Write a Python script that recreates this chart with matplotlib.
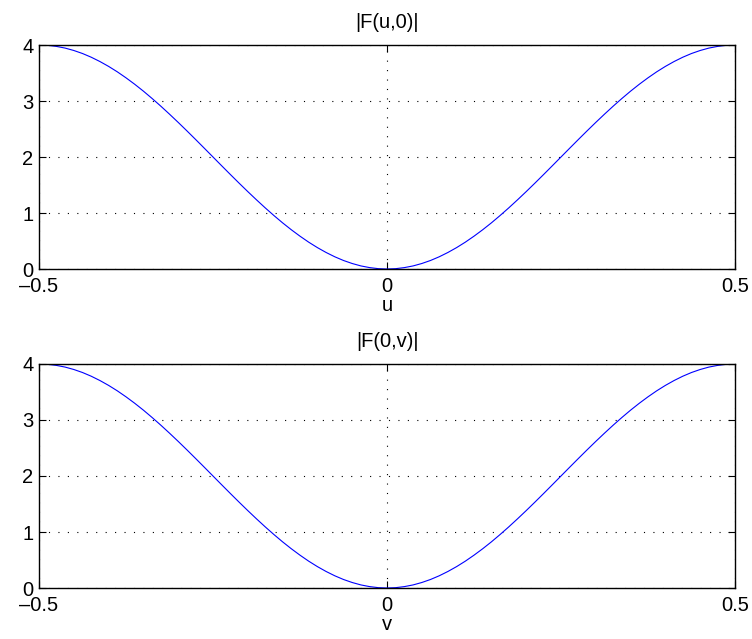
import matplotlib
matplotlib.use("Agg")
import matplotlib.pyplot as plt

plt.rcParams["font.family"] = ["Liberation Sans", "DejaVu Sans"]

u = [-0.5, -0.4875, -0.475, -0.4625, -0.45, -0.4375, -0.425, -0.4125, -0.4, -0.3875,
     -0.375, -0.3625, -0.35, -0.3375, -0.325, -0.3125, -0.3, -0.2875, -0.275, -0.2625,
     -0.25, -0.2375, -0.225, -0.2125, -0.2, -0.1875, -0.175, -0.1625, -0.15, -0.1375,
     -0.125, -0.1125, -0.1, -0.0875, -0.075, -0.0625, -0.05, -0.0375, -0.025, -0.0125,
     0.0, 0.0125, 0.025, 0.0375, 0.05, 0.0625, 0.075, 0.0875, 0.1, 0.1125,
     0.125, 0.1375, 0.15, 0.1625, 0.175, 0.1875, 0.2, 0.2125, 0.225, 0.2375,
     0.25, 0.2625, 0.275, 0.2875, 0.3, 0.3125, 0.325, 0.3375, 0.35, 0.3625,
     0.375, 0.3875, 0.4, 0.4125, 0.425, 0.4375, 0.45, 0.4625, 0.475, 0.4875, 0.5]
mag_u = [4.0, 3.994, 3.975, 3.945, 3.902, 3.848, 3.782, 3.705, 3.618, 3.521,
         3.414, 3.299, 3.176, 3.045, 2.908, 2.765, 2.618, 2.467, 2.313, 2.157,
         2.0, 1.843, 1.687, 1.533, 1.382, 1.235, 1.092, 0.955, 0.824, 0.701,
         0.586, 0.479, 0.382, 0.295, 0.218, 0.152, 0.098, 0.055, 0.025, 0.006,
         0.0, 0.006, 0.025, 0.055, 0.098, 0.152, 0.218, 0.295, 0.382, 0.479,
         0.586, 0.701, 0.824, 0.955, 1.092, 1.235, 1.382, 1.533, 1.687, 1.843,
         2.0, 2.157, 2.313, 2.467, 2.618, 2.765, 2.908, 3.045, 3.176, 3.299,
         3.414, 3.521, 3.618, 3.705, 3.782, 3.848, 3.902, 3.945, 3.975, 3.994, 4.0]
v = list(u)
mag_v = list(mag_u)

xticks = [-0.5, 0, 0.5]
xtick_labels = ["\u20130.5", "0", "0.5"]
yticks = [0, 1, 2, 3, 4]

fig = plt.figure(figsize=(7.52, 6.39), dpi=100)
ax1 = fig.add_axes([39 / 752, 1 - 269 / 639, 696 / 752, 224 / 639])
ax2 = fig.add_axes([39 / 752, 1 - 588 / 639, 696 / 752, 224 / 639])

panels = [(ax1, u, mag_u, "|F(u,0)|", "u"), (ax2, v, mag_v, "|F(0,v)|", "v")]
for ax, x, y, title, xlabel in panels:
    ax.plot(x, y, color=(0, 0, 1), linewidth=0.8)
    ax.set_xlim(-0.5, 0.5)
    ax.set_ylim(0, 4)
    ax.set_xticks(xticks)
    ax.set_xticklabels(xtick_labels)
    ax.set_yticks(yticks)
    ax.grid(True, color="black", linestyle=(0, (1, 7.5)), linewidth=0.8)
    ax.tick_params(direction="in", length=5, width=0.8, top=True, right=True,
                   labelsize=14.5, colors="black")
    ax.tick_params(axis="x", pad=6)
    ax.tick_params(axis="y", pad=4)
    for s in ax.spines.values():
        s.set_linewidth(1.0)
        s.set_color("black")
    ax.set_title(title, fontsize=14.5, pad=12)
    ax.set_xlabel(xlabel, fontsize=14.5, labelpad=0)

fig.savefig("out.png", dpi=100)
